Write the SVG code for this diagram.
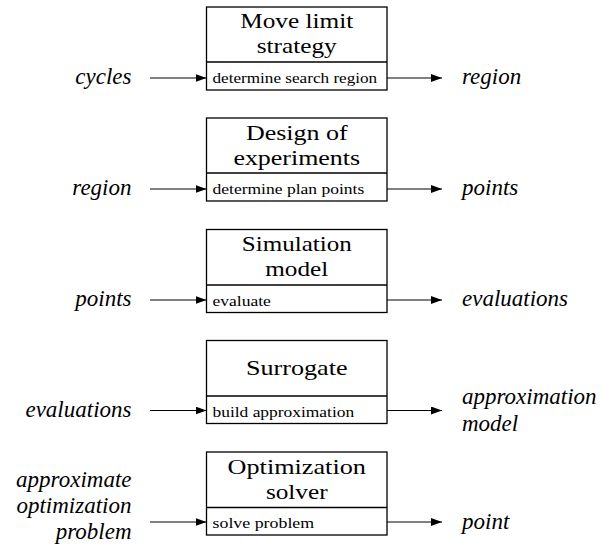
<svg xmlns="http://www.w3.org/2000/svg" width="601" height="546" viewBox="0 0 601 546">
  <defs>
    <marker id="tip" markerWidth="11" markerHeight="8" refX="11" refY="4" orient="auto" markerUnits="userSpaceOnUse">
      <path d="M0,0 L11,4 L0,8 Z" fill="#000"/>
    </marker>
  </defs>
  <style>
    .box { fill: #fff; stroke: #000; stroke-width: 1.3; }
    .div { stroke: #000; stroke-width: 1.3; }
    .title { font-size: 22px; fill: #000; text-anchor: middle; }
    .small { font-size: 15px; fill: #000; }
    .lab { font-size: 23px; font-style: italic; fill: #000; }
    .labL { text-anchor: end; }
    .arrow { stroke: #000; stroke-width: 1; fill: none; marker-end: url(#tip); }
  </style>

  <!-- processing steps: title block over an action row -->
  <g id="move-limit">
    <rect class="box" x="206.5" y="7" width="180.5" height="83"/>
    <line class="div" x1="206.5" y1="62" x2="387" y2="62"/>
    <text class="title" style="font-family: Liberation Serif, serif" x="296.75" y="28.3" textLength="113" lengthAdjust="spacingAndGlyphs">Move limit</text>
    <text class="title" style="font-family: Liberation Serif, serif" x="296.75" y="53.3" textLength="80" lengthAdjust="spacingAndGlyphs">strategy</text>
    <text class="small" style="font-family: Liberation Serif, serif" x="212.5" y="83.3" textLength="164.7" lengthAdjust="spacingAndGlyphs">determine search region</text>
  </g>

  <g id="doe">
    <rect class="box" x="206.5" y="118" width="180.5" height="83"/>
    <line class="div" x1="206.5" y1="173" x2="387" y2="173"/>
    <text class="title" style="font-family: Liberation Serif, serif" x="296.75" y="139.5" textLength="101.7" lengthAdjust="spacingAndGlyphs">Design of</text>
    <text class="title" style="font-family: Liberation Serif, serif" x="296.75" y="164.5" textLength="126.7" lengthAdjust="spacingAndGlyphs">experiments</text>
    <text class="small" style="font-family: Liberation Serif, serif" x="212.5" y="194.3" textLength="151.7" lengthAdjust="spacingAndGlyphs">determine plan points</text>
  </g>

  <g id="simulation">
    <rect class="box" x="206.5" y="229.5" width="180.5" height="83"/>
    <line class="div" x1="206.5" y1="285" x2="387" y2="285"/>
    <text class="title" style="font-family: Liberation Serif, serif" x="296.75" y="251" textLength="110" lengthAdjust="spacingAndGlyphs">Simulation</text>
    <text class="title" style="font-family: Liberation Serif, serif" x="296.75" y="276" textLength="63" lengthAdjust="spacingAndGlyphs">model</text>
    <text class="small" style="font-family: Liberation Serif, serif" x="212.5" y="305.8" textLength="58.3" lengthAdjust="spacingAndGlyphs">evaluate</text>
  </g>

  <g id="surrogate">
    <rect class="box" x="206.5" y="340.5" width="180.5" height="83"/>
    <line class="div" x1="206.5" y1="396" x2="387" y2="396"/>
    <text class="title" style="font-family: Liberation Serif, serif" x="296.75" y="375" textLength="101.7" lengthAdjust="spacingAndGlyphs">Surrogate</text>
    <text class="small" style="font-family: Liberation Serif, serif" x="212.5" y="416.8" textLength="141.7" lengthAdjust="spacingAndGlyphs">build approximation</text>
  </g>

  <g id="optimizer">
    <rect class="box" x="206.5" y="452" width="180.5" height="83"/>
    <line class="div" x1="206.5" y1="507.5" x2="387" y2="507.5"/>
    <text class="title" style="font-family: Liberation Serif, serif" x="296.75" y="473.5" textLength="138.3" lengthAdjust="spacingAndGlyphs">Optimization</text>
    <text class="title" style="font-family: Liberation Serif, serif" x="296.75" y="498.5" textLength="61.7" lengthAdjust="spacingAndGlyphs">solver</text>
    <text class="small" style="font-family: Liberation Serif, serif" x="212.5" y="528.3" textLength="101.7" lengthAdjust="spacingAndGlyphs">solve problem</text>
  </g>

  <!-- inputs (left) -->
  <g id="in-cycles"><text class="lab labL" style="font-family: Liberation Serif, serif" x="131.5" y="84">cycles</text></g>
  <g id="in-region"><text class="lab labL" style="font-family: Liberation Serif, serif" x="131.5" y="195">region</text></g>
  <g id="in-points"><text class="lab labL" style="font-family: Liberation Serif, serif" x="131.5" y="306">points</text></g>
  <g id="in-evaluations"><text class="lab labL" style="font-family: Liberation Serif, serif" x="131.5" y="416.5">evaluations</text></g>
  <g id="in-problem">
    <text class="lab labL" style="font-family: Liberation Serif, serif" x="131.5" y="487">approximate</text>
    <text class="lab labL" style="font-family: Liberation Serif, serif" x="131.5" y="513">optimization</text>
    <text class="lab labL" style="font-family: Liberation Serif, serif" x="131.5" y="539">problem</text>
  </g>

  <!-- outputs (right) -->
  <g id="out-region"><text class="lab" style="font-family: Liberation Serif, serif" x="462" y="84">region</text></g>
  <g id="out-points"><text class="lab" style="font-family: Liberation Serif, serif" x="462" y="195">points</text></g>
  <g id="out-evaluations"><text class="lab" style="font-family: Liberation Serif, serif" x="462" y="306">evaluations</text></g>
  <g id="out-model">
    <text class="lab" style="font-family: Liberation Serif, serif" x="462" y="404">approximation</text>
    <text class="lab" style="font-family: Liberation Serif, serif" x="462" y="431">model</text>
  </g>
  <g id="out-point"><text class="lab" style="font-family: Liberation Serif, serif" x="462" y="528.5">point</text></g>

  <!-- connectors -->
  <g id="connectors">
    <line class="arrow" x1="150" y1="78" x2="206.5" y2="78"/>
    <line class="arrow" x1="387" y1="78" x2="442" y2="78"/>
    <line class="arrow" x1="150" y1="189" x2="206.5" y2="189"/>
    <line class="arrow" x1="387" y1="189" x2="442" y2="189"/>
    <line class="arrow" x1="150" y1="300" x2="206.5" y2="300"/>
    <line class="arrow" x1="387" y1="300" x2="442" y2="300"/>
    <line class="arrow" x1="150" y1="410.5" x2="206.5" y2="410.5"/>
    <line class="arrow" x1="387" y1="410.5" x2="442" y2="410.5"/>
    <line class="arrow" x1="150" y1="522" x2="206.5" y2="522"/>
    <line class="arrow" x1="387" y1="522" x2="442" y2="522"/>
  </g>
</svg>
